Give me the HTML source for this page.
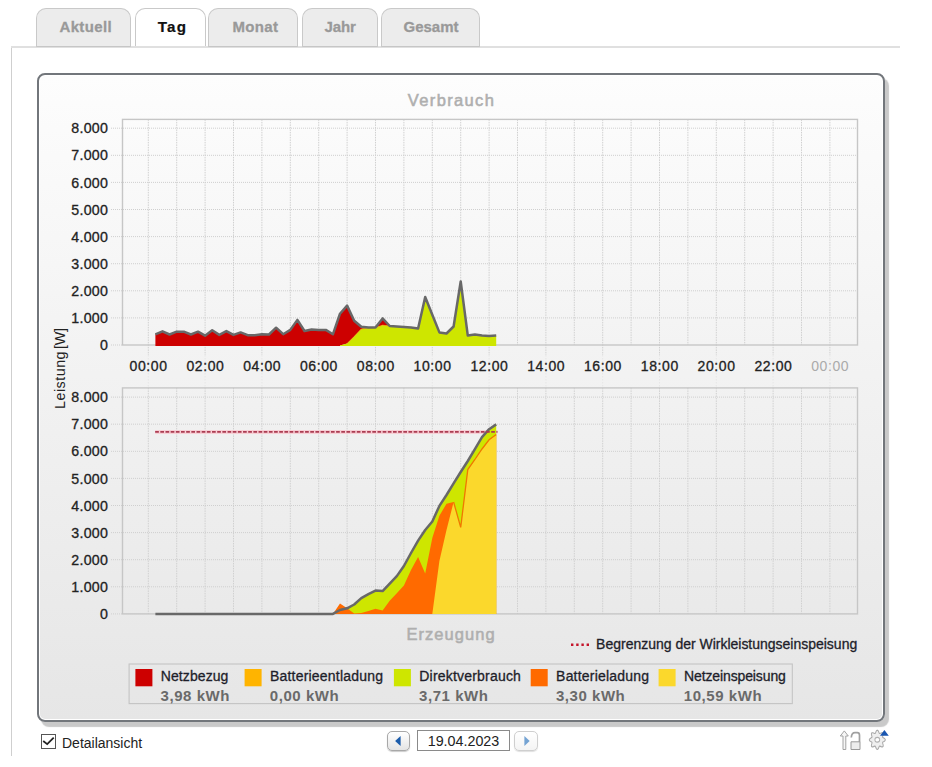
<!DOCTYPE html>
<html><head><meta charset="utf-8"><title>Tag</title><style>
html,body{margin:0;padding:0;background:#fff;}
body{width:932px;height:767px;overflow:hidden;position:relative;font-family:"Liberation Sans",sans-serif;}
.tab{position:absolute;top:8.2px;height:38.5px;box-sizing:border-box;border:1.4px solid #c9c9c9;border-bottom:1.6px solid #c6c6c6;border-radius:10px 10px 0 0;background:#ececec;}
.tab.act{background:#fff;border-bottom:none;height:38.2px;}
#topline{position:absolute;left:11px;top:46.4px;width:889px;height:1.2px;background:#e0e0e0;}
#leftline{position:absolute;left:11px;top:46px;width:1.2px;height:710px;background:#cfcfcf;}
#box{position:absolute;left:37px;top:73px;width:844px;height:645px;border:2px solid #72767b;border-radius:8px;background:linear-gradient(#fdfdfd,#f3f3f3 42%,#e6e6e6);box-shadow:inset 0 0 0 1px #fff,4px 5px 1px #c9c9c9;}
svg{position:absolute;left:0;top:0;}
.g{stroke:#cfcfcf;stroke-width:1;stroke-dasharray:1 1;}
.gv{stroke:#d0d0d0;stroke-width:1;stroke-dasharray:1.5 1;}
.gf{stroke:#e6e6e6;stroke-width:1;stroke-dasharray:1.5 1.5;}
.fr{fill:none;stroke:#c6c6c6;stroke-width:1.4;}
.ol{fill:none;stroke:#686868;stroke-width:2.5;stroke-linejoin:round;}
text{font-family:"Liberation Sans",sans-serif;}
.yl{font-size:14.2px;fill:#222;text-anchor:end;letter-spacing:0.25px;stroke:#222;stroke-width:0.3px;}
.xl{font-size:14px;fill:#222;text-anchor:middle;letter-spacing:0.6px;stroke:#222;stroke-width:0.3px;}
.xl2{font-size:14px;fill:#aaa;text-anchor:middle;letter-spacing:0.6px;}
.tt{font-size:16.5px;fill:#afafaf;text-anchor:middle;letter-spacing:1.35px;stroke:#afafaf;stroke-width:0.55px;}
.yt{font-size:14.3px;fill:#222;text-anchor:middle;letter-spacing:0.25px;}
.lt{font-size:14px;fill:#1e1e2a;letter-spacing:0.2px;stroke:#1e1e2a;stroke-width:0.3px;}
.lv{font-size:15px;font-weight:bold;fill:#6a6a6a;letter-spacing:0.55px;}
.ti{font-size:15px;font-weight:bold;fill:#999;stroke:#999;stroke-width:0.3px;}
.ta{font-size:15.2px;font-weight:bold;fill:#111;stroke:#111;stroke-width:0.2px;}
#cb{position:absolute;left:41px;top:734px;width:12.5px;height:12.5px;border:1px solid #555;background:#fff;}
#cbl{position:absolute;left:62px;top:734.5px;font-size:14px;color:#222;}
.nb{position:absolute;top:731px;width:21px;height:17.8px;border:1px solid #a8a8a8;border-radius:5px;background:linear-gradient(#fff,#e4e4e4);box-shadow:0 1px 1px #ccc;}
#date{position:absolute;left:417px;top:730px;width:91px;height:19px;border:1px solid #8a8a8a;background:#fff;font-size:14.3px;color:#222;text-align:center;line-height:20px;}
</style></head><body>
<div id="leftline"></div>
<div id="topline"></div>
<div class="tab" style="left:36.3px;width:95px;"></div>
<div class="tab act" style="left:134.5px;width:71px;"></div>
<div class="tab" style="left:208.3px;width:90px;"></div>
<div class="tab" style="left:302px;width:76px;"></div>
<div class="tab" style="left:381px;width:98.5px;"></div>
<div id="box"></div>
<svg width="932" height="767" viewBox="0 0 932 767">
<defs><clipPath id="ct"><rect x="120" y="100" width="740" height="246"/></clipPath><clipPath id="cb"><rect x="120" y="380" width="740" height="234"/></clipPath></defs>
<line x1="111" y1="345" x2="122.5" y2="345" class="g"/>
<line x1="111" y1="317.9" x2="857.5" y2="317.9" class="g"/>
<line x1="111" y1="290.8" x2="857.5" y2="290.8" class="g"/>
<line x1="111" y1="263.7" x2="857.5" y2="263.7" class="g"/>
<line x1="111" y1="236.6" x2="857.5" y2="236.6" class="g"/>
<line x1="111" y1="209.5" x2="857.5" y2="209.5" class="g"/>
<line x1="111" y1="182.4" x2="857.5" y2="182.4" class="g"/>
<line x1="111" y1="155.3" x2="857.5" y2="155.3" class="g"/>
<line x1="111" y1="128.2" x2="857.5" y2="128.2" class="g"/>
<line x1="148.3" y1="119.4" x2="148.3" y2="355" class="gv"/>
<line x1="176.7" y1="119.4" x2="176.7" y2="345" class="gv"/>
<line x1="205.1" y1="119.4" x2="205.1" y2="355" class="gv"/>
<line x1="233.5" y1="119.4" x2="233.5" y2="345" class="gv"/>
<line x1="261.9" y1="119.4" x2="261.9" y2="355" class="gv"/>
<line x1="290.3" y1="119.4" x2="290.3" y2="345" class="gv"/>
<line x1="318.7" y1="119.4" x2="318.7" y2="355" class="gv"/>
<line x1="347.1" y1="119.4" x2="347.1" y2="345" class="gv"/>
<line x1="375.5" y1="119.4" x2="375.5" y2="355" class="gv"/>
<line x1="403.9" y1="119.4" x2="403.9" y2="345" class="gv"/>
<line x1="432.3" y1="119.4" x2="432.3" y2="355" class="gv"/>
<line x1="460.7" y1="119.4" x2="460.7" y2="345" class="gv"/>
<line x1="489.1" y1="119.4" x2="489.1" y2="355" class="gv"/>
<line x1="517.5" y1="119.4" x2="517.5" y2="345" class="gv"/>
<line x1="545.9" y1="119.4" x2="545.9" y2="355" class="gv"/>
<line x1="574.3" y1="119.4" x2="574.3" y2="345" class="gv"/>
<line x1="602.7" y1="119.4" x2="602.7" y2="355" class="gv"/>
<line x1="631.1" y1="119.4" x2="631.1" y2="345" class="gv"/>
<line x1="659.5" y1="119.4" x2="659.5" y2="355" class="gv"/>
<line x1="687.9" y1="119.4" x2="687.9" y2="345" class="gv"/>
<line x1="716.3" y1="119.4" x2="716.3" y2="355" class="gv"/>
<line x1="744.7" y1="119.4" x2="744.7" y2="345" class="gv"/>
<line x1="773.1" y1="119.4" x2="773.1" y2="355" class="gv"/>
<line x1="801.5" y1="119.4" x2="801.5" y2="345" class="gv"/>
<line x1="829.9" y1="119.4" x2="829.9" y2="355" class="gv"/>
<rect x="122.5" y="119.4" width="735" height="225.6" class="fr"/>
<line x1="111" y1="613.9" x2="122.5" y2="613.9" class="g"/>
<line x1="111" y1="586.8" x2="857.5" y2="586.8" class="g"/>
<line x1="111" y1="559.7" x2="857.5" y2="559.7" class="g"/>
<line x1="111" y1="532.6" x2="857.5" y2="532.6" class="g"/>
<line x1="111" y1="505.5" x2="857.5" y2="505.5" class="g"/>
<line x1="111" y1="478.4" x2="857.5" y2="478.4" class="g"/>
<line x1="111" y1="451.3" x2="857.5" y2="451.3" class="g"/>
<line x1="111" y1="424.2" x2="857.5" y2="424.2" class="g"/>
<line x1="111" y1="397.1" x2="857.5" y2="397.1" class="g"/>
<line x1="148.3" y1="387.9" x2="148.3" y2="613.9" class="gv"/>
<line x1="176.7" y1="387.9" x2="176.7" y2="613.9" class="gv"/>
<line x1="205.1" y1="387.9" x2="205.1" y2="613.9" class="gv"/>
<line x1="233.5" y1="387.9" x2="233.5" y2="613.9" class="gv"/>
<line x1="261.9" y1="387.9" x2="261.9" y2="613.9" class="gv"/>
<line x1="290.3" y1="387.9" x2="290.3" y2="613.9" class="gv"/>
<line x1="318.7" y1="387.9" x2="318.7" y2="613.9" class="gv"/>
<line x1="347.1" y1="387.9" x2="347.1" y2="613.9" class="gv"/>
<line x1="375.5" y1="387.9" x2="375.5" y2="613.9" class="gv"/>
<line x1="403.9" y1="387.9" x2="403.9" y2="613.9" class="gv"/>
<line x1="432.3" y1="387.9" x2="432.3" y2="613.9" class="gv"/>
<line x1="460.7" y1="387.9" x2="460.7" y2="613.9" class="gv"/>
<line x1="489.1" y1="387.9" x2="489.1" y2="613.9" class="gv"/>
<line x1="517.5" y1="387.9" x2="517.5" y2="613.9" class="gv"/>
<line x1="545.9" y1="387.9" x2="545.9" y2="613.9" class="gv"/>
<line x1="574.3" y1="387.9" x2="574.3" y2="613.9" class="gv"/>
<line x1="602.7" y1="387.9" x2="602.7" y2="613.9" class="gv"/>
<line x1="631.1" y1="387.9" x2="631.1" y2="613.9" class="gv"/>
<line x1="659.5" y1="387.9" x2="659.5" y2="613.9" class="gv"/>
<line x1="687.9" y1="387.9" x2="687.9" y2="613.9" class="gv"/>
<line x1="716.3" y1="387.9" x2="716.3" y2="613.9" class="gv"/>
<line x1="744.7" y1="387.9" x2="744.7" y2="613.9" class="gv"/>
<line x1="773.1" y1="387.9" x2="773.1" y2="613.9" class="gv"/>
<line x1="801.5" y1="387.9" x2="801.5" y2="613.9" class="gv"/>
<line x1="829.9" y1="387.9" x2="829.9" y2="613.9" class="gv"/>
<rect x="122.5" y="387.9" width="735" height="226" class="fr"/>
<line x1="148.3" y1="355" x2="148.3" y2="387.9" class="gf"/>
<line x1="205.1" y1="355" x2="205.1" y2="387.9" class="gf"/>
<line x1="261.9" y1="355" x2="261.9" y2="387.9" class="gf"/>
<line x1="318.7" y1="355" x2="318.7" y2="387.9" class="gf"/>
<line x1="375.5" y1="355" x2="375.5" y2="387.9" class="gf"/>
<line x1="432.3" y1="355" x2="432.3" y2="387.9" class="gf"/>
<line x1="489.1" y1="355" x2="489.1" y2="387.9" class="gf"/>
<line x1="545.9" y1="355" x2="545.9" y2="387.9" class="gf"/>
<line x1="602.7" y1="355" x2="602.7" y2="387.9" class="gf"/>
<line x1="659.5" y1="355" x2="659.5" y2="387.9" class="gf"/>
<line x1="716.3" y1="355" x2="716.3" y2="387.9" class="gf"/>
<line x1="773.1" y1="355" x2="773.1" y2="387.9" class="gf"/>
<line x1="829.9" y1="355" x2="829.9" y2="387.9" class="gf"/>
<text x="108.1" y="350.1" class="yl">0</text>
<text x="108.1" y="619" class="yl">0</text>
<text x="108.1" y="323" class="yl">1.000</text>
<text x="108.1" y="591.9" class="yl">1.000</text>
<text x="108.1" y="295.9" class="yl">2.000</text>
<text x="108.1" y="564.8" class="yl">2.000</text>
<text x="108.1" y="268.8" class="yl">3.000</text>
<text x="108.1" y="537.7" class="yl">3.000</text>
<text x="108.1" y="241.7" class="yl">4.000</text>
<text x="108.1" y="510.6" class="yl">4.000</text>
<text x="108.1" y="214.6" class="yl">5.000</text>
<text x="108.1" y="483.5" class="yl">5.000</text>
<text x="108.1" y="187.5" class="yl">6.000</text>
<text x="108.1" y="456.4" class="yl">6.000</text>
<text x="108.1" y="160.4" class="yl">7.000</text>
<text x="108.1" y="429.3" class="yl">7.000</text>
<text x="108.1" y="133.3" class="yl">8.000</text>
<text x="108.1" y="402.2" class="yl">8.000</text>
<text x="148.6" y="370.8" class="xl">00:00</text>
<text x="205.4" y="370.8" class="xl">02:00</text>
<text x="262.2" y="370.8" class="xl">04:00</text>
<text x="319" y="370.8" class="xl">06:00</text>
<text x="375.8" y="370.8" class="xl">08:00</text>
<text x="432.6" y="370.8" class="xl">10:00</text>
<text x="489.4" y="370.8" class="xl">12:00</text>
<text x="546.2" y="370.8" class="xl">14:00</text>
<text x="603" y="370.8" class="xl">16:00</text>
<text x="659.8" y="370.8" class="xl">18:00</text>
<text x="716.6" y="370.8" class="xl">20:00</text>
<text x="773.4" y="370.8" class="xl">22:00</text>
<text x="830.2" y="370.8" class="xl2">00:00</text>
<g clip-path="url(#ct)">
<path d="M155.4,348 L155.4,334.3 L162.5,331.3 L169.6,334.5 L176.7,331.7 L183.8,331.7 L190.9,334.5 L198,331.7 L205.1,335.7 L212.2,330.3 L219.3,334.9 L226.4,331.1 L233.5,334.9 L240.6,332.4 L247.7,335.2 L254.8,335.2 L261.9,334.2 L269,334.5 L276.1,327.7 L283.2,334.2 L290.3,329.9 L297.4,319.9 L304.5,331 L311.6,329.5 L318.7,329.9 L325.8,329.9 L332.9,334.3 L340,313.7 L347.1,305.6 L354.2,320.8 L361.3,326.8 L368.4,327.6 L375.5,327.6 L382.6,318.4 L389.7,326 L396.8,326.5 L403.9,327 L411,327.4 L418.1,328.5 L425.2,297 L432.3,314.7 L439.4,332.4 L446.5,333.5 L453.6,326.5 L460.7,281.5 L467.8,335.6 L474.9,334.5 L482,335.6 L489.1,335.9 L496.2,335.6 L496.2,335.6 L489.1,335.9 L482,335.6 L474.9,334.5 L467.8,335.6 L460.7,281.5 L453.6,326.5 L446.5,333.5 L439.4,332.4 L432.3,314.7 L425.2,297 L418.1,328.5 L411,327.4 L403.9,327 L396.8,326.5 L389.7,326 L382.6,325.2 L375.5,327.6 L368.4,328.1 L361.3,329 L354.2,336.5 L347.1,343.6 L340,345.5 L340,348 Z" fill="#cd0000"/>
<path d="M340,348 L340,345.5 L347.1,343.6 L354.2,336.5 L361.3,329 L368.4,328.1 L375.5,327.6 L382.6,325.2 L389.7,326 L396.8,326.5 L403.9,327 L411,327.4 L418.1,328.5 L425.2,297 L432.3,314.7 L439.4,332.4 L446.5,333.5 L453.6,326.5 L460.7,281.5 L467.8,335.6 L474.9,334.5 L482,335.6 L489.1,335.9 L496.2,335.6 L496.2,348 Z" fill="#cee600"/>
</g>
<path d="M347.1,343.6 L354.2,336.5 L361.3,329 L368.4,328.1 L375.5,327.6 L382.6,325.2 L389.7,326" fill="none" stroke="#f0a000" stroke-width="0.9" opacity="0.8"/>
<path d="M155.4,334.3 L162.5,331.3 L169.6,334.5 L176.7,331.7 L183.8,331.7 L190.9,334.5 L198,331.7 L205.1,335.7 L212.2,330.3 L219.3,334.9 L226.4,331.1 L233.5,334.9 L240.6,332.4 L247.7,335.2 L254.8,335.2 L261.9,334.2 L269,334.5 L276.1,327.7 L283.2,334.2 L290.3,329.9 L297.4,319.9 L304.5,331 L311.6,329.5 L318.7,329.9 L325.8,329.9 L332.9,334.3 L340,313.7 L347.1,305.6 L354.2,320.8 L361.3,326.8 L368.4,327.6 L375.5,327.6 L382.6,318.4 L389.7,326 L396.8,326.5 L403.9,327 L411,327.4 L418.1,328.5 L425.2,297 L432.3,314.7 L439.4,332.4 L446.5,333.5 L453.6,326.5 L460.7,281.5 L467.8,335.6 L474.9,334.5 L482,335.6 L489.1,335.9 L496.2,335.6" class="ol"/>
<line x1="155.15" y1="431.9" x2="497.5" y2="431.9" stroke="#f7d0d6" stroke-width="4"/>
<g clip-path="url(#cb)">
<path d="M332.9,616.9 L332.9,613.9 L340,610 L347.1,608.3 L354.2,604.5 L361.3,598.1 L368.4,594.1 L375.5,590.6 L382.6,591.1 L389.7,583.6 L396.8,576.1 L403.9,566 L411,553 L418.1,540.6 L425.2,530 L432.3,521.5 L439.4,505.9 L446.5,495 L453.6,483.4 L460.7,472 L467.8,461 L474.9,449.2 L482,437.2 L489.1,429.2 L496.2,424.4 L496.2,616.9 Z" fill="#cee600"/>
<path d="M332.9,616.9 L332.9,613.9 L340,603.5 L347.1,608.3 L354.2,613.6 L361.3,613.1 L368.4,611 L375.5,608.8 L382.6,610.4 L389.7,600.8 L396.8,593.3 L403.9,585.5 L411,570 L418.1,557 L425.2,573.4 L432.3,538 L439.4,515.7 L446.5,503.8 L453.6,502 L460.7,527.4 L467.8,469.5 L474.9,459.5 L482,449 L489.1,439.8 L496.2,434.6 L496.2,616.9 Z" fill="#ff6a00"/>
<path d="M432.3,616.9 L432.3,613.9 L439.4,561 L446.5,530 L453.6,502 L460.7,527.4 L467.8,469.5 L474.9,459.5 L482,449 L489.1,439.8 L496.2,434.6 L496.2,616.9 Z" fill="#fbd82c"/>
</g>
<path d="M453.6,502 L460.7,527.4 L467.8,469.5 L474.9,459.5 L482,449 L489.1,439.8 L496.2,434.6" fill="none" stroke="#f07800" stroke-width="1.3"/>
<path d="M155.4,613.9 L162.5,613.9 L169.6,613.9 L176.7,613.9 L183.8,613.9 L190.9,613.9 L198,613.9 L205.1,613.9 L212.2,613.9 L219.3,613.9 L226.4,613.9 L233.5,613.9 L240.6,613.9 L247.7,613.9 L254.8,613.9 L261.9,613.9 L269,613.9 L276.1,613.9 L283.2,613.9 L290.3,613.9 L297.4,613.9 L304.5,613.9 L311.6,613.9 L318.7,613.9 L325.8,613.9 L332.9,613.9 L340,610 L347.1,608.3 L354.2,604.5 L361.3,598.1 L368.4,594.1 L375.5,590.6 L382.6,591.1 L389.7,583.6 L396.8,576.1 L403.9,566 L411,553 L418.1,540.6 L425.2,530 L432.3,521.5 L439.4,505.9 L446.5,495 L453.6,483.4 L460.7,472 L467.8,461 L474.9,449.2 L482,437.2 L489.1,429.2 L496.2,424.4" class="ol"/>
<line x1="155.15" y1="431.9" x2="497.5" y2="431.9" stroke="#ac3c52" stroke-width="1.6" stroke-dasharray="3.7 1.47"/>
<text x="451.5" y="105.8" class="tt">Verbrauch</text>
<text x="451.1" y="639.5" class="tt" style="letter-spacing:1.05px">Erzeugung</text>
<text transform="translate(64.7,368.6) rotate(-90)" class="yt" style="letter-spacing:0.5px;word-spacing:-2.6px">Leistung <tspan style="letter-spacing:-0.2px">[W]</tspan></text>
<line x1="571" y1="644.8" x2="589" y2="644.8" stroke="#c4142a" stroke-width="2.4" stroke-dasharray="2.4 2.8"/>
<text x="596.1" y="648.9" class="lt" style="letter-spacing:-0.01px">Begrenzung der Wirkleistungseinspeisung</text>
<rect x="129.1" y="664" width="663.2" height="39.6" fill="none" stroke="#c4c4c4" stroke-width="1.1"/>
<rect x="135.4" y="669" width="17" height="17.3" fill="#cd0000"/>
<text x="160.8" y="680.7" class="lt" style="letter-spacing:0.08px">Netzbezug</text>
<text x="160.6" y="700.6" class="lv">3,98 kWh</text>
<rect x="244.6" y="669" width="17" height="17.3" fill="#ffb400"/>
<text x="270" y="680.7" class="lt" style="letter-spacing:0.2px">Batterieentladung</text>
<text x="269.8" y="700.6" class="lv">0,00 kWh</text>
<rect x="393.9" y="669" width="17" height="17.3" fill="#cee600"/>
<text x="419.3" y="680.7" class="lt" style="letter-spacing:0.2px">Direktverbrauch</text>
<text x="419.1" y="700.6" class="lv">3,71 kWh</text>
<rect x="530.7" y="669" width="17" height="17.3" fill="#ff6a00"/>
<text x="556.1" y="680.7" class="lt" style="letter-spacing:0.2px">Batterieladung</text>
<text x="555.9" y="700.6" class="lv">3,30 kWh</text>
<rect x="658.6" y="669" width="17" height="17.3" fill="#fbd82c"/>
<text x="684" y="680.7" class="lt" style="letter-spacing:-0.12px">Netzeinspeisung</text>
<text x="683.8" y="700.6" class="lv">10,59 kWh</text>
<text x="59.5" y="32" class="ti" style="letter-spacing:0.35px">Aktuell</text>
<text x="157.8" y="32" class="ta" style="letter-spacing:1.15px">Tag</text>
<text x="232.4" y="32" class="ti" style="letter-spacing:0.38px">Monat</text>
<text x="324.4" y="32" class="ti" style="letter-spacing:-0.05px">Jahr</text>
<text x="403.5" y="32" class="ti" style="letter-spacing:0.0px">Gesamt</text>
</svg>
<div id="cb"><svg width="13" height="13" viewBox="0 0 13 13" style="position:absolute;left:0;top:0"><path d="M1.2,6 L5.2,9.1 L11.7,2.6" fill="none" stroke="#222" stroke-width="1.8"/></svg></div>
<div id="cbl">Detailansicht</div>
<div class="nb" style="left:387px;width:21.4px;"><svg width="22" height="19" viewBox="388 732 22 19" style="position:absolute;left:0;top:0"><path d="M395.1,741 L400.6,736.1 L400.6,745.9 Z" fill="#1b5cab"/></svg></div>
<div id="date">19.04.2023</div>
<div class="nb" style="left:513.7px;width:22.8px;border-color:#cfcfcf;background:linear-gradient(#fff,#f4f4f4);box-shadow:0 1px 1px #e0e0e0;"><svg width="24" height="19" viewBox="514.7 732 24 19" style="position:absolute;left:0;top:0"><path d="M529.4,741 L524.1,736.1 L524.1,745.9 Z" fill="#74a3d3"/></svg></div>
<svg width="60" height="30" viewBox="836 726 60 30" style="left:836px;top:726px;">
<path d="M843,749.5 L843,736 L840.3,736 L844.3,730.9 L848.3,736 L845.8,736 L845.8,749.5 Z" fill="#f6f6f6" stroke="#9a9a9a" stroke-width="0.9" stroke-linejoin="round"/>
<path d="M851,741.8 L860,741.8 L860,749.5 L851,749.5 Z" fill="#ededed" stroke="#9a9a9a" stroke-width="1"/>
<path d="M851.3,737.5 Q851.6,732.6 855,732.6 L857.3,732.6 Q859.5,732.6 859.5,735.2 L859.5,742" fill="none" stroke="#a0a0a0" stroke-width="1.7"/>
<g transform="translate(877.3,739.8) scale(8,9.6)"><path d="M0.000,-1.000 L0.064,-0.979 L0.121,-0.922 L0.168,-0.843 L0.204,-0.763 L0.237,-0.700 L0.276,-0.665 L0.327,-0.663 L0.395,-0.684 L0.478,-0.715 L0.566,-0.738 L0.647,-0.738 L0.707,-0.707 L0.738,-0.647 L0.738,-0.566 L0.715,-0.478 L0.684,-0.395 L0.663,-0.327 L0.665,-0.276 L0.700,-0.237 L0.763,-0.204 L0.843,-0.168 L0.922,-0.121 L0.979,-0.064 L1.000,-0.000 L0.979,0.064 L0.922,0.121 L0.843,0.168 L0.763,0.204 L0.700,0.237 L0.665,0.276 L0.663,0.327 L0.684,0.395 L0.715,0.478 L0.738,0.566 L0.738,0.647 L0.707,0.707 L0.647,0.738 L0.566,0.738 L0.478,0.715 L0.395,0.684 L0.327,0.663 L0.276,0.665 L0.237,0.700 L0.204,0.763 L0.168,0.843 L0.121,0.922 L0.064,0.979 L0.000,1.000 L-0.064,0.979 L-0.121,0.922 L-0.168,0.843 L-0.204,0.763 L-0.237,0.700 L-0.276,0.665 L-0.327,0.663 L-0.395,0.684 L-0.478,0.715 L-0.566,0.738 L-0.647,0.738 L-0.707,0.707 L-0.738,0.647 L-0.738,0.566 L-0.715,0.478 L-0.684,0.395 L-0.663,0.327 L-0.665,0.276 L-0.700,0.237 L-0.763,0.204 L-0.843,0.168 L-0.922,0.121 L-0.979,0.064 L-1.000,0.000 L-0.979,-0.064 L-0.922,-0.121 L-0.843,-0.168 L-0.763,-0.204 L-0.700,-0.237 L-0.665,-0.276 L-0.663,-0.327 L-0.684,-0.395 L-0.715,-0.478 L-0.738,-0.566 L-0.738,-0.647 L-0.707,-0.707 L-0.647,-0.738 L-0.566,-0.738 L-0.478,-0.715 L-0.395,-0.684 L-0.327,-0.663 L-0.276,-0.665 L-0.237,-0.700 L-0.204,-0.763 L-0.168,-0.843 L-0.121,-0.922 L-0.064,-0.979 Z" fill="#efefef" stroke="#a8a8a8" stroke-width="0.12"/><ellipse rx="0.3" ry="0.25" fill="#fff" stroke="#b0b0b0" stroke-width="0.12"/></g>
<path d="M880,735.7 L884.4,730.1 L888.8,735.7 Z" fill="#1a56b0"/>
</svg>
</body></html>
